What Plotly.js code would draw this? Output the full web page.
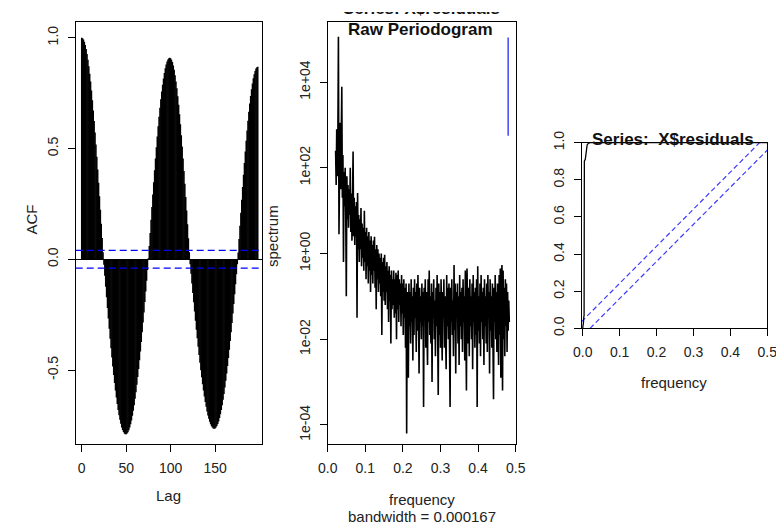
<!DOCTYPE html>
<html>
<head>
<meta charset="utf-8">
<script src="https://cdn.plot.ly/plotly-3.0.1.min.js"></script>
<style>
  html, body { margin: 0; padding: 0; background: #fff; }
  #wrap { position: relative; width: 776px; height: 525px; overflow: hidden; }
  #chart { width: 776px; height: 525px; }
  #topmask { position: absolute; left: 0; top: 0; width: 776px; height: 11.5px; background: #fff; z-index: 10; }
</style>
</head>
<body>
<div id="wrap">
  <div id="chart"></div>
  <div id="topmask"></div>
</div>
<script>
// ---------- Panel 1: ACF of X$residuals (lags 0..198) ----------
const acfValue = [
  1.000, 0.998, 0.992, 0.982, 0.967, 0.949, 0.927, 0.901, 0.871, 0.838,
  0.802, 0.762, 0.718, 0.672, 0.624, 0.572, 0.518, 0.463, 0.405, 0.345,
  0.285, 0.223, 0.160, 0.096, 0.032, -0.025, -0.074, -0.124, -0.172, -0.220,
  -0.268, -0.314, -0.359, -0.402, -0.444, -0.484, -0.522, -0.559, -0.593, -0.624,
  -0.653, -0.680, -0.704, -0.725, -0.743, -0.759, -0.771, -0.780, -0.787, -0.790,
  -0.790, -0.787, -0.781, -0.772, -0.760, -0.745, -0.728, -0.707, -0.684, -0.659,
  -0.630, -0.600, -0.567, -0.532, -0.495, -0.456, -0.416, -0.374, -0.330, -0.285,
  -0.240, -0.193, -0.145, -0.097, -0.049, 0.005, 0.060, 0.119, 0.178, 0.236,
  0.292, 0.348, 0.402, 0.455, 0.506, 0.554, 0.600, 0.643, 0.684, 0.722,
  0.757, 0.788, 0.816, 0.841, 0.862, 0.879, 0.893, 0.902, 0.908, 0.910,
  0.908, 0.901, 0.890, 0.875, 0.855, 0.831, 0.803, 0.772, 0.736, 0.697,
  0.655, 0.609, 0.560, 0.509, 0.455, 0.399, 0.341, 0.281, 0.220, 0.158,
  0.095, 0.032, -0.022, -0.065, -0.109, -0.152, -0.194, -0.236, -0.278, -0.318,
  -0.357, -0.395, -0.432, -0.467, -0.501, -0.533, -0.564, -0.592, -0.619, -0.644,
  -0.666, -0.687, -0.705, -0.720, -0.734, -0.745, -0.754, -0.760, -0.764, -0.765,
  -0.764, -0.760, -0.753, -0.744, -0.732, -0.717, -0.700, -0.681, -0.659, -0.634,
  -0.608, -0.579, -0.549, -0.516, -0.482, -0.446, -0.408, -0.369, -0.329, -0.288,
  -0.245, -0.202, -0.158, -0.113, -0.068, -0.023, 0.030, 0.091, 0.151, 0.210,
  0.269, 0.326, 0.381, 0.435, 0.486, 0.535, 0.581, 0.625, 0.666, 0.703,
  0.737, 0.767, 0.794, 0.817, 0.835, 0.850, 0.861, 0.867, 0.869
];
const acfCI = [0.04, -0.04];
const acfXTicks = [0, 50, 100, 150];
const acfYTicks = [-0.5, 0, 0.5, 1];
const acfYLabels = ["-0.5", "0.0", "0.5", "1.0"];

// ---------- Panel 2: raw periodogram (values read as log10 of spectrum) ----------
const pgFreqStart = 0.021;
const pgFreqStep = 0.0015;
const pgLog10 = [
  2.4, 1.6, 2.9, 1.8, 2.6, 5.06, 0.45, 2.2, 3.05, 1.5,
  2.5, 3.89, 1.3, 2.3, -0.2, 1.9, 1.1, 2.0, 0.9, -1.0,
  1.8, 0.8, 1.6, 0.6, 1.5, 0.9, 2.0, 0.5, 1.4, 0.3,
  1.2, 2.38, 0.4, 1.3, 0.2, 1.1, 0.4, 1.2, -1.5, 1.41,
  0.1, 0.9, -0.2, 0.8, 0.1, 1.06, -0.3, 0.7, -0.1, 0.6,
  -0.4, 1.0, -0.2, 0.5, -0.6, 0.6, -0.3, 0.4, -0.7, 0.5,
  -0.4, 0.3, -0.9, 0.4, -0.5, 0.2, -0.7, 0.3, -0.4, 0.39,
  -0.8, 0.1, -1.3, 0.2, -0.6, 0.1, -0.9, 0.0, -0.7, -0.1,
  -1.0, 0.0, -1.9, -0.2, -0.9, -0.1, -1.1, -0.03, -1.2, -0.3,
  -0.9, -0.2, -1.3, -0.4, -1.6, -0.3, -1.1, -0.5, -2.1, -0.4,
  -1.3, -0.6, -1.2, -0.4, -1.5, -0.6, -1.4, -0.45, -2.0, -0.5,
  -1.3, -0.4, -1.6, -0.6, -1.2, -0.7, -1.7, -0.5, -1.4, -0.7,
  -1.9, -0.6, -1.5, -0.8, -2.2, -0.7, -4.2, -0.9, -1.8, -2.9,
  -0.7, -1.7, -0.9, -2.1, -0.6, -1.6, -1.0, -2.5, -0.8, -1.9,
  -0.6, -1.5, -0.9, -2.3, -0.7, -1.8, -0.5, -1.4, -2.8, -0.8,
  -1.6, -1.0, -2.0, -0.7, -1.7, -0.9, -3.58, -0.8, -1.5, -0.6,
  -2.2, -0.9, -1.8, -2.6, -0.6, -1.6, -0.4, -1.9, -1.0, -2.1,
  -0.7, -3.0, -0.9, -1.5, -0.6, -2.0, -1.1, -2.4, -0.8, -1.7,
  -0.5, -1.4, -3.3, -0.7, -1.9, -0.9, -2.2, -0.6, -1.6, -2.5,
  -0.9, -1.5, -0.6, -2.2, -1.0, -1.8, -2.7, -0.5, -1.7, -0.8,
  -2.0, -0.7, -2.3, -3.58, -0.8, -1.6, -0.6, -1.9, -1.1, -2.4,
  -0.27, -1.8, -0.7, -2.8, -0.9, -1.5, -0.7, -2.1, -1.0, -2.6,
  -0.5, -1.7, -0.9, -2.0, -0.8, -2.3, -0.6, -1.6, -1.0, -2.5,
  -0.4, -1.8, -3.2, -0.35, -1.5, -2.1, -0.8, -2.4, -0.6, -1.7,
  -1.0, -2.0, -0.7, -2.7, -0.5, -1.6, -0.9, -2.2, -0.8, -1.9,
  -0.6, -3.58, -0.3, -1.8, -1.0, -2.1, -0.7, -2.4, -0.5, -1.6,
  -0.9, -2.0, -0.8, -2.6, -0.6, -1.7, -1.0, -2.1, -0.7, -2.3,
  -0.5, -1.5, -0.9, -2.8, -0.6, -1.8, -1.0, -2.2, -0.7, -2.5,
  -3.4, -0.8, -1.6, -0.5, -2.0, -0.9, -2.3, -0.7, -1.7, -2.6,
  -0.5, -1.9, -0.35, -2.9, -0.6, -0.27, -3.2, -0.4, -2.0, -0.8,
  -2.4, -0.6, -1.7, -0.7, -2.3, -0.9, -1.8, -1.1, -1.6
];
const pgCIFreq = [0.48, 0.48];
const pgCISpec = [561, 1.1e5];
const pgXTicks = [0, 0.1, 0.2, 0.3, 0.4, 0.5];
const pgXLabels = ["0.0", "0.1", "0.2", "0.3", "0.4", "0.5"];
const pgYTicks = [1e-4, 1e-2, 1, 1e2, 1e4];
const pgYLabels = ["1e-04", "1e-02", "1e+00", "1e+02", "1e+04"];

// ---------- Panel 3: cumulative periodogram ----------
const cpFreq = [0.000, 0.001, 0.002, 0.003, 0.0038, 0.0045, 0.006, 0.007, 0.008, 0.009, 0.010, 0.012, 0.015, 0.020, 0.100, 0.200, 0.300, 0.400, 0.500];
const cpValue = [0.000, 0.010, 0.030, 0.060, 0.070, 0.900, 0.905, 0.910, 0.925, 0.950, 0.970, 0.988, 0.996, 1.000, 1.000, 1.000, 1.000, 1.000, 1.000];
const cpUpperFreq = [-0.003, 0.479];
const cpUpperValue = [0.036, 1.0];
const cpLowerFreq = [0.02, 0.5];
const cpLowerValue = [0.0, 0.96];
const cpXTicks = [0, 0.1, 0.2, 0.3, 0.4, 0.5];
const cpXLabels = ["0.0", "0.1", "0.2", "0.3", "0.4", "0.5"];
const cpYTicks = [0, 0.2, 0.4, 0.6, 0.8, 1.0];
const cpYLabels = ["0.0", "0.2", "0.4", "0.6", "0.8", "1.0"];

// ---------- build traces ----------
const acfX = [], acfY = [];
acfValue.forEach((v, lag) => { acfX.push(lag, lag, null); acfY.push(0, v, null); });
const pgFreq = pgLog10.map((_, i) => pgFreqStart + i * pgFreqStep);
const pgSpectrum = pgLog10.map(v => Math.pow(10, v));

const W = 776, H = 525;
const px = x => x / W;
const py = y => 1 - y / H;
const FONT = "Liberation Sans, Arial, Helvetica, sans-serif";
const tickFont = { family: FONT, size: 14, color: "#222" };

const traces = [
  { type: "scatter", mode: "lines", x: acfX, y: acfY, xaxis: "x", yaxis: "y",
    line: { color: "#000", width: 1.5 }, hoverinfo: "skip" },
  { type: "scatter", mode: "lines", x: pgFreq, y: pgSpectrum, xaxis: "x2", yaxis: "y2",
    line: { color: "#000", width: 1.6 }, hoverinfo: "skip" },
  { type: "scatter", mode: "lines", x: pgCIFreq, y: pgCISpec, xaxis: "x2", yaxis: "y2",
    line: { color: "rgb(80,80,255)", width: 1.6 }, hoverinfo: "skip" },
  { type: "scatter", mode: "lines", x: cpUpperFreq, y: cpUpperValue, xaxis: "x3", yaxis: "y3",
    line: { color: "rgb(60,60,255)", width: 1.2, dash: "5px,3px" }, hoverinfo: "skip" },
  { type: "scatter", mode: "lines", x: cpLowerFreq, y: cpLowerValue, xaxis: "x3", yaxis: "y3",
    line: { color: "rgb(60,60,255)", width: 1.2, dash: "5px,3px" }, hoverinfo: "skip" },
  { type: "scatter", mode: "lines", x: cpFreq, y: cpValue, xaxis: "x3", yaxis: "y3",
    line: { color: "#000", width: 1.3 }, hoverinfo: "skip" }
];

function axisBase(extra) {
  return Object.assign({
    showline: true, linecolor: "#000", linewidth: 1, mirror: true,
    ticks: "outside", ticklen: 7, tickcolor: "#000", tickwidth: 1,
    showgrid: false, zeroline: false, tickfont: tickFont, fixedrange: true,
    ticklabelstandoff: 4, ticklabeloverflow: "allow"
  }, extra);
}

const layout = {
  width: W, height: H,
  margin: { l: 0, r: 0, t: 0, b: 0 },
  paper_bgcolor: "#fff", plot_bgcolor: "#fff",
  showlegend: false,
  xaxis: axisBase({ domain: [px(75.7), px(262.3)], range: [-6.75, 203.1], anchor: "y",
    tickvals: acfXTicks, ticktext: acfXTicks.map(String) }),
  yaxis: axisBase({ domain: [py(444), py(21.8)], range: [-0.834, 1.072], anchor: "x",
    tickvals: acfYTicks, ticktext: acfYLabels, tickangle: -90,
    zeroline: true, zerolinecolor: "#000", zerolinewidth: 1 }),
  xaxis2: axisBase({ domain: [px(327.7), px(515.7)], range: [0, 0.5], anchor: "y2",
    tickvals: pgXTicks, ticktext: pgXLabels }),
  yaxis2: axisBase({ domain: [py(444), py(21.8)], type: "log", range: [-4.446, 5.407], anchor: "x2",
    tickvals: pgYTicks, ticktext: pgYLabels, tickangle: -90 }),
  xaxis3: axisBase({ domain: [px(581.7), px(767.3)], range: [-0.0027, 0.5], anchor: "y3",
    tickvals: cpXTicks, ticktext: cpXLabels }),
  yaxis3: axisBase({ domain: [py(328.3), py(142.7)], range: [0, 1], anchor: "x3",
    tickvals: cpYTicks, ticktext: cpYLabels, tickangle: -90 }),
  shapes: acfCI.map(v => ({
    type: "line", xref: "x domain", x0: 0, x1: 1, yref: "y", y0: v, y1: v,
    line: { color: "#0000ff", width: 1.3, dash: "7px,4px" }, layer: "above"
  })),
  annotations: [
    { text: "<b>Series: X$residuals</b>", x: px(421.7), y: py(8.5), xref: "paper", yref: "paper",
      showarrow: false, xanchor: "center", yanchor: "middle",
      font: { family: FONT, size: 17, color: "#111" } },
    { text: "<b>Raw Periodogram</b>", x: px(420), y: py(29.5), xref: "paper", yref: "paper",
      showarrow: false, xanchor: "center", yanchor: "middle",
      font: { family: FONT, size: 17, color: "#111" } },
    { text: "<b>Series:  X$residuals</b>", x: px(673), y: py(140), xref: "paper", yref: "paper",
      showarrow: false, xanchor: "center", yanchor: "middle",
      font: { family: FONT, size: 17, color: "#111" } },
    { text: "ACF", x: px(30.5), y: py(220), xref: "paper", yref: "paper", textangle: -90,
      showarrow: false, xanchor: "center", yanchor: "middle", font: { family: FONT, size: 15, color: "#222" } },
    { text: "spectrum", x: px(272), y: py(236), xref: "paper", yref: "paper", textangle: -90,
      showarrow: false, xanchor: "center", yanchor: "middle", font: { family: FONT, size: 15, color: "#222" } },
    { text: "Lag", x: px(168), y: py(495), xref: "paper", yref: "paper",
      showarrow: false, xanchor: "center", yanchor: "middle", font: { family: FONT, size: 15, color: "#222" } },
    { text: "frequency", x: px(421.7), y: py(499), xref: "paper", yref: "paper",
      showarrow: false, xanchor: "center", yanchor: "middle", font: { family: FONT, size: 15, color: "#222" } },
    { text: "bandwidth = 0.000167", x: px(421.7), y: py(516), xref: "paper", yref: "paper",
      showarrow: false, xanchor: "center", yanchor: "middle", font: { family: FONT, size: 15, color: "#222" } },
    { text: "frequency", x: px(674), y: py(382), xref: "paper", yref: "paper",
      showarrow: false, xanchor: "center", yanchor: "middle", font: { family: FONT, size: 15, color: "#222" } }
  ]
};

Plotly.newPlot("chart", traces, layout, { staticPlot: true, displayModeBar: false });
</script>
</body>
</html>
